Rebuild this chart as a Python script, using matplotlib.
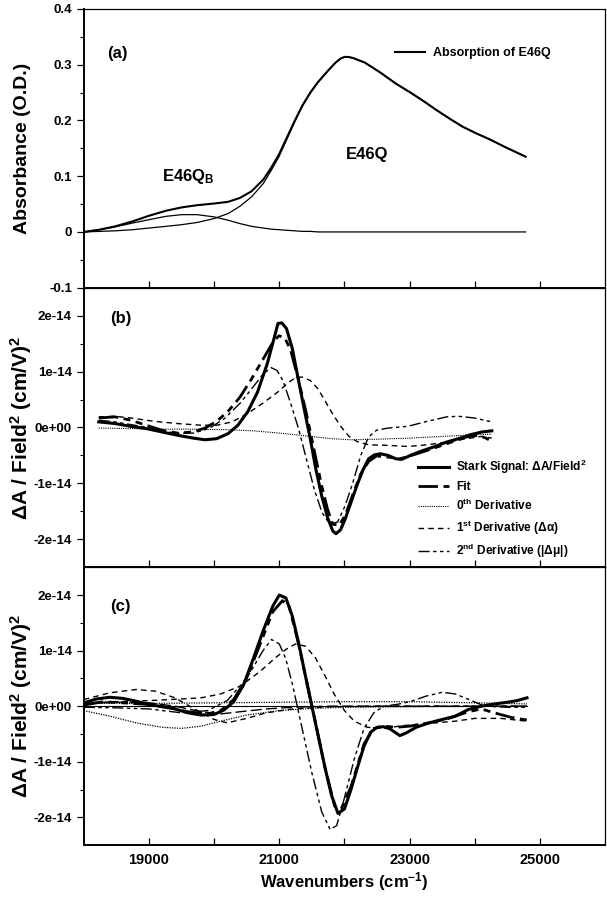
import matplotlib
matplotlib.use('Agg')
import matplotlib.pyplot as plt
from matplotlib.ticker import FixedLocator, MultipleLocator

plt.rcParams['font.family'] = ['Liberation Sans', 'DejaVu Sans']
plt.rcParams['font.weight'] = 'bold'
plt.rcParams['axes.labelweight'] = 'bold'
plt.rcParams['mathtext.fontset'] = 'custom'
plt.rcParams['mathtext.rm'] = 'Liberation Sans:bold'
plt.rcParams['mathtext.bf'] = 'Liberation Sans:bold'
plt.rcParams['mathtext.default'] = 'bf'

# ---- panel (a): absorption ----
wn_a = [18000, 18240, 18480, 18750, 19000, 19260, 19500, 19740, 20000, 20215,
        20395, 20575, 20755, 20875, 20995, 21115, 21235, 21355, 21475, 21595,
        21745, 21865, 21940, 22000, 22060, 22130, 22310, 22550, 22790, 23000,
        23210, 23420, 23630, 23810, 24020, 24230, 24470, 24780]
abs_total = [0.0, 0.004, 0.010, 0.019, 0.029, 0.038, 0.044, 0.048, 0.051, 0.054,
             0.061, 0.073, 0.094, 0.115, 0.139, 0.169, 0.199, 0.227, 0.250, 0.269,
             0.289, 0.304, 0.311, 0.314, 0.314, 0.312, 0.304, 0.286, 0.266, 0.251,
             0.235, 0.218, 0.202, 0.189, 0.177, 0.166, 0.152, 0.135]
abs_b = [0.0, 0.004, 0.009, 0.016, 0.022, 0.028, 0.031, 0.031, 0.027, 0.021,
         0.015, 0.010, 0.007, 0.005, 0.004, 0.003, 0.002, 0.001, 0.001, 0.0,
         0.0, 0.0, 0.0, 0.0, 0.0, 0.0, 0.0, 0.0, 0.0, 0.0,
         0.0, 0.0, 0.0, 0.0, 0.0, 0.0, 0.0, 0.0]
abs_q = [0.0, 0.001, 0.002, 0.004, 0.007, 0.010, 0.013, 0.017, 0.024, 0.033,
         0.046, 0.063, 0.087, 0.110, 0.135, 0.166, 0.197, 0.226, 0.249, 0.269,
         0.289, 0.304, 0.311, 0.314, 0.314, 0.312, 0.304, 0.286, 0.266, 0.251,
         0.235, 0.218, 0.202, 0.189, 0.177, 0.166, 0.152, 0.135]

# ---- panel (b): Stark, one species (units of 1e-14) ----
wn_b_stark = [18230, 18480, 18720, 18960, 19200, 19440, 19680, 19860, 20040, 20215,
              20365, 20515, 20665, 20815, 20905, 20980, 21040, 21110, 21200, 21290,
              21380, 21475, 21560, 21650, 21740, 21820, 21870, 21940, 22010, 22100,
              22190, 22280, 22370, 22460, 22550, 22670, 22790, 22880, 23030, 23210,
              23390, 23570, 23750, 23930, 24110, 24260]
stark_b = [0.10, 0.07, 0.02, -0.02, -0.08, -0.14, -0.19, -0.22, -0.20, -0.11,
           0.04, 0.28, 0.63, 1.14, 1.53, 1.86, 1.87, 1.77, 1.41, 0.87,
           0.34, -0.20, -0.74, -1.22, -1.61, -1.85, -1.90, -1.83, -1.64, -1.34,
           -1.04, -0.77, -0.56, -0.49, -0.47, -0.50, -0.56, -0.57, -0.49, -0.41,
           -0.34, -0.26, -0.20, -0.13, -0.08, -0.06]
wn_b_fit = [18230, 18480, 18720, 18960, 19200, 19440, 19680, 19860, 20040, 20215,
            20395, 20575, 20755, 20905, 20995, 21085, 21175, 21290, 21410, 21530,
            21650, 21740, 21820, 21920, 22020, 22130, 22250, 22370, 22490, 22670,
            22850, 23030, 23270, 23570, 23870, 24050, 24170, 24260]
fit_b = [0.17, 0.19, 0.13, 0.04, -0.05, -0.10, -0.08, -0.01, 0.11, 0.29,
         0.54, 0.87, 1.23, 1.53, 1.64, 1.60, 1.38, 0.87, 0.28, -0.38,
         -1.04, -1.46, -1.73, -1.75, -1.55, -1.19, -0.83, -0.61, -0.51, -0.53,
         -0.56, -0.50, -0.41, -0.29, -0.17, -0.14, -0.19, -0.25]
wn_b_d0 = [18230, 18700, 19200, 19700, 20200, 20600, 21000, 21400, 21800, 22100,
           22500, 23000, 23500, 24000, 24260]
d0_b = [-0.01, -0.02, -0.03, -0.03, -0.04, -0.06, -0.10, -0.15, -0.20, -0.22,
        -0.21, -0.19, -0.16, -0.13, -0.12]
wn_b_d1 = [18230, 18480, 18720, 19080, 19440, 19800, 20040, 20275, 20515, 20755,
           20995, 21145, 21265, 21355, 21475, 21595, 21710, 21830, 21950, 22070,
           22190, 22370, 22670, 22970, 23270, 23570, 23870, 24110, 24260]
d1_b = [0.19, 0.20, 0.17, 0.11, 0.07, 0.04, 0.04, 0.10, 0.25, 0.44,
        0.65, 0.81, 0.90, 0.90, 0.84, 0.69, 0.46, 0.22, 0.01, -0.16,
        -0.25, -0.31, -0.32, -0.34, -0.31, -0.26, -0.20, -0.16, -0.19]
wn_b_d2 = [18230, 18480, 18780, 19080, 19380, 19680, 19920, 20160, 20395, 20575,
           20755, 20875, 20965, 21055, 21175, 21295, 21415, 21535, 21655, 21775,
           21895, 22010, 22130, 22250, 22370, 22490, 22670, 22970, 23270, 23570,
           23750, 23990, 24260]
d2_b = [0.13, 0.10, 0.04, -0.02, -0.10, -0.10, -0.02, 0.16, 0.43, 0.69,
        0.96, 1.07, 1.02, 0.84, 0.43, -0.02, -0.56, -1.10, -1.52, -1.73,
        -1.69, -1.40, -0.98, -0.50, -0.17, -0.05, -0.01, 0.02, 0.11, 0.19,
        0.20, 0.17, 0.10]

# ---- panel (c): Stark, two species (units of 1e-14) ----
wn_c_stark = [18000, 18200, 18400, 18600, 18800, 19000, 19200, 19400, 19600, 19800,
              20000, 20150, 20300, 20450, 20600, 20750, 20900, 21000, 21100, 21200,
              21300, 21400, 21500, 21600, 21700, 21800, 21900, 22000, 22100, 22200,
              22300, 22400, 22500, 22600, 22700, 22850, 22950, 23100, 23300, 23500,
              23700, 23900, 24100, 24300, 24500, 24650, 24800]
stark_c = [0.06, 0.13, 0.16, 0.14, 0.09, 0.03, -0.01, -0.05, -0.12, -0.16,
           -0.15, -0.07, 0.08, 0.38, 0.85, 1.35, 1.80, 2.00, 1.95, 1.62,
           1.12, 0.55, 0.0, -0.55, -1.10, -1.60, -1.93, -1.85, -1.50, -1.10,
           -0.72, -0.47, -0.38, -0.37, -0.41, -0.53, -0.48, -0.38, -0.30, -0.24,
           -0.18, -0.06, 0.0, 0.04, 0.07, 0.10, 0.15]
wn_c_fit = [18000, 18300, 18600, 19000, 19300, 19600, 19900, 20100, 20300, 20500,
            20700, 20900, 21050, 21150, 21300, 21500, 21700, 21850, 21950, 22100,
            22300, 22450, 22600, 22800, 23000, 23300, 23600, 23900, 24100, 24300,
            24550, 24800]
fit_c = [0.02, 0.08, 0.06, 0.03, -0.02, -0.10, -0.14, -0.08, 0.12, 0.50,
         1.10, 1.70, 1.90, 1.80, 1.10, 0.0, -1.10, -1.80, -1.85, -1.45,
         -0.68, -0.40, -0.36, -0.38, -0.36, -0.30, -0.22, -0.10, -0.05, -0.12,
         -0.20, -0.25]
wn_c_d0q = [18000, 19000, 20000, 21000, 22000, 23000, 24000, 24800]
d0q_c = [0.05, 0.05, 0.06, 0.07, 0.08, 0.08, 0.06, 0.04]
wn_c_d0b = [18000, 18400, 18800, 19200, 19500, 19800, 20100, 20500, 21000, 21500,
            22000, 23000, 24800]
d0b_c = [-0.08, -0.18, -0.30, -0.38, -0.40, -0.36, -0.27, -0.16, -0.08, -0.04,
         -0.02, -0.01, 0.0]
wn_c_d1q = [18000, 18500, 19000, 19500, 19800, 20100, 20400, 20700, 20950, 21100,
            21250, 21400, 21550, 21700, 21850, 22000, 22150, 22350, 22600, 22900,
            23300, 23700, 24000, 24400, 24800]
d1q_c = [0.06, 0.08, 0.10, 0.13, 0.15, 0.22, 0.36, 0.62, 0.88, 1.02,
         1.12, 1.08, 0.88, 0.55, 0.20, -0.08, -0.27, -0.38, -0.40, -0.35,
         -0.31, -0.27, -0.22, -0.22, -0.27]
wn_c_d1b = [18000, 18400, 18800, 19100, 19400, 19700, 20000, 20200, 20500, 20800,
            21200, 21800, 22500, 24800]
d1b_c = [0.12, 0.24, 0.30, 0.27, 0.15, -0.05, -0.24, -0.30, -0.22, -0.12,
         -0.05, -0.01, 0.0, 0.0]
wn_c_d2q = [18000, 18500, 19000, 19500, 19900, 20200, 20500, 20750, 20880, 21000,
            21100, 21200, 21350, 21500, 21650, 21780, 21880, 22000, 22150, 22300,
            22450, 22600, 22800, 23000, 23250, 23500, 23700, 23950, 24150, 24500,
            24800]
d2q_c = [-0.02, -0.03, -0.05, -0.12, -0.08, 0.10, 0.50, 1.00, 1.20, 1.12,
         0.85, 0.40, -0.40, -1.20, -1.90, -2.22, -2.15, -1.65, -0.95, -0.40,
         -0.12, 0.0, 0.03, 0.08, 0.18, 0.25, 0.22, 0.10, 0.0, -0.02,
         -0.02]
wn_c_d2b = [18000, 18500, 19000, 19400, 19800, 20100, 20400, 20800, 21200, 21800, 24800]
d2b_c = [0.05, 0.07, 0.06, 0.0, -0.10, -0.14, -0.10, -0.05, -0.02, 0.0, 0.0]
wn_c_base = [18000, 24800]
base_c = [0.0, 0.0]

scale = 1e-14
lab_names = ['Stark Signal: \u0394A/Field$^2$', 'Fit', '0$^{th}$ Derivative',
             '1$^{st}$ Derivative (\u0394\u03b1)', '2$^{nd}$ Derivative (|\u0394\u03bc|)']

fig = plt.figure(figsize=(6.07, 8.99), dpi=100)
axa = fig.add_axes([0.138, 0.680, 0.859, 0.310])
axb = fig.add_axes([0.138, 0.369, 0.859, 0.311])
axc = fig.add_axes([0.138, 0.060, 0.859, 0.309])

k = 'black'
fit_dash = (7, 2, 2.5, 2, 2.5, 2)
d2_dash = (8, 2.5, 2.5, 2.5, 2.5, 2.5)

# (a)
axa.plot(wn_a, abs_total, color=k, lw=1.5, label='Absorption of E46Q')
axa.plot(wn_a, abs_q, color=k, lw=0.9)
axa.plot(wn_a, abs_b, color=k, lw=0.9)
axa.set_ylim(-0.1, 0.4)
axa.set_yticks([-0.1, 0, 0.1, 0.2, 0.3, 0.4])
axa.set_yticklabels(['-0.1', '0', '0.1', '0.2', '0.3', '0.4'])
axa.yaxis.set_minor_locator(MultipleLocator(0.05))
axa.set_ylabel('Absorbance (O.D.)', fontsize=14, fontweight='bold')
axa.yaxis.set_label_coords(-0.102, 0.5)
axa.legend(loc='upper left', bbox_to_anchor=(0.585, 0.885), frameon=False,
           fontsize=9, handlelength=2.4, handletextpad=0.6, borderpad=0)
axa.text(18360, 0.32, '(a)', fontsize=12, va='center')
axa.text(19200, 0.10, 'E46Q$_\\mathbf{B}$', fontsize=12, va='center')
axa.text(22020, 0.139, 'E46Q', fontsize=12, va='center')

# (b)
axb.plot(wn_b_stark, [v * scale for v in stark_b], color=k, lw=2.2, label=lab_names[0])
axb.plot(wn_b_fit, [v * scale for v in fit_b], color=k, lw=2.0, dashes=fit_dash, label=lab_names[1])
axb.plot(wn_b_d0, [v * scale for v in d0_b], color=k, lw=0.8, dashes=(1, 1), label=lab_names[2])
axb.plot(wn_b_d1, [v * scale for v in d1_b], color=k, lw=1.0, dashes=(4, 3), label=lab_names[3])
axb.plot(wn_b_d2, [v * scale for v in d2_b], color=k, lw=1.0, dashes=d2_dash, label=lab_names[4])
axb.text(18400, 1.95e-14, '(b)', fontsize=12, va='center')
axb.legend(loc='lower left', bbox_to_anchor=(0.63, 0.005), frameon=False,
           fontsize=8.6, handlelength=2.6, handletextpad=0.6, labelspacing=0.42, borderpad=0)

# (c)
axc.plot(wn_c_base, base_c, color=k, lw=0.8)
axc.plot(wn_c_d0q, [v * scale for v in d0q_c], color=k, lw=0.9, dashes=(1, 1))
axc.plot(wn_c_d0b, [v * scale for v in d0b_c], color=k, lw=0.9, dashes=(1, 1))
axc.plot(wn_c_d1q, [v * scale for v in d1q_c], color=k, lw=1.0, dashes=(4, 3))
axc.plot(wn_c_d1b, [v * scale for v in d1b_c], color=k, lw=1.0, dashes=(4, 3))
axc.plot(wn_c_d2q, [v * scale for v in d2q_c], color=k, lw=1.0, dashes=d2_dash)
axc.plot(wn_c_d2b, [v * scale for v in d2b_c], color=k, lw=1.0, dashes=(8, 3))
axc.plot(wn_c_fit, [v * scale for v in fit_c], color=k, lw=2.0, dashes=fit_dash)
axc.plot(wn_c_stark, [v * scale for v in stark_c], color=k, lw=2.2)
axc.text(18400, 1.8e-14, '(c)', fontsize=12, va='center')

for ax in (axb, axc):
    ax.set_ylim(-2.5e-14, 2.5e-14)
    ax.set_yticks([-2e-14, -1e-14, 0, 1e-14, 2e-14])
    ax.set_yticklabels(['-2e-14', '-1e-14', '0e+00', '1e-14', '2e-14'])
    ax.yaxis.set_minor_locator(FixedLocator([-1.5e-14, -0.5e-14, 0.5e-14, 1.5e-14]))
    ax.set_ylabel('\u0394A / Field$^2$ (cm/V)$^2$', fontsize=15, fontweight='bold')
    ax.yaxis.set_label_coords(-0.095, 0.5)

for ax in (axa, axb, axc):
    ax.set_xlim(18000, 26000)
    ax.set_xticks([19000, 20000, 21000, 22000, 23000, 24000, 25000])
    ax.tick_params(axis='x', direction='in', length=5, width=0.9)
    ax.tick_params(axis='y', which='major', direction='out', length=5, width=0.9, labelsize=9.5)
    ax.tick_params(axis='y', which='minor', direction='out', length=3, width=0.8)
    for s in ('left', 'bottom'):
        ax.spines[s].set_linewidth(1.4)
    for s in ('top', 'right'):
        ax.spines[s].set_linewidth(0.9)
    if ax is not axc:
        ax.tick_params(axis='x', labelbottom=False)

axc.set_xticklabels(['19000', '', '21000', '', '23000', '', '25000'])
axc.tick_params(axis='x', labelsize=10.5, pad=6)
axc.set_xlabel('Wavenumbers (cm$^{-1}$)', fontsize=12, labelpad=2)

fig.savefig('out.png', dpi=100)
